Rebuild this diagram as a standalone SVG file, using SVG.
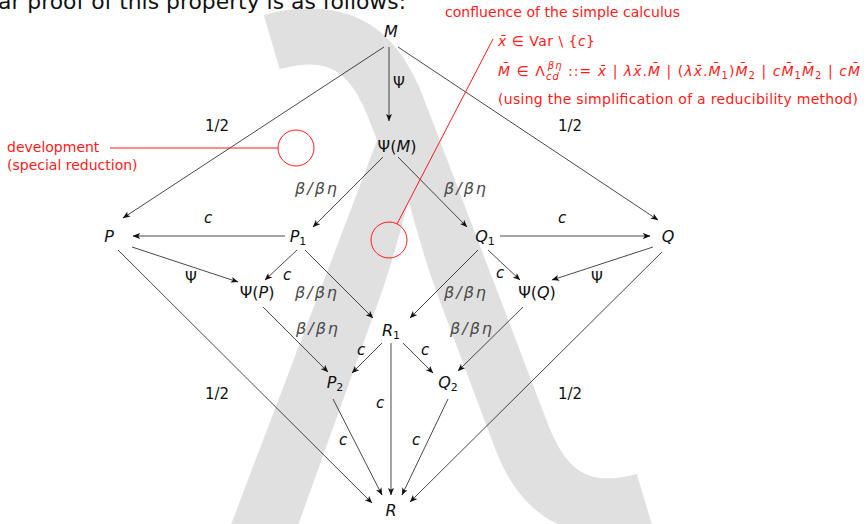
<svg xmlns="http://www.w3.org/2000/svg" width="867" height="524" viewBox="0 0 867 524">
<defs>
<marker id="ah" viewBox="0 0 10 8" refX="9.5" refY="4" markerWidth="7.5" markerHeight="6" markerUnits="userSpaceOnUse" orient="auto">
<path d="M0,0 L10,4 L0,8 L2.5,4 z" fill="#111"/>
</marker>
<style>
.e{stroke:#1a1a1a;stroke-width:0.8;fill:none;marker-end:url(#ah)}
.n{font-family:"DejaVu Sans",sans-serif;font-size:16px;fill:#111;text-anchor:middle}
.l{font-family:"DejaVu Sans",sans-serif;font-size:15px;fill:#111;text-anchor:middle}
.i{font-style:italic}
.g{fill:#4a4a4a;font-size:16px}
.s{font-size:11px}
.r{font-family:"DejaVu Sans",sans-serif;font-size:14px;fill:#ff1a1a}
.rl{stroke:#ff1a1a;stroke-width:1;fill:none}
</style>
</defs>
<rect width="867" height="524" fill="#ffffff"/>
<text x="212" y="526" font-family="Inter, sans-serif" font-size="700" fill="#e0e0e0">λ</text>
<text x="-2" y="9" font-family="DejaVu Sans, sans-serif" font-size="21" fill="#111" textLength="408" lengthAdjust="spacingAndGlyphs">ar proof of this property is as follows:</text>

<g id="connectors">
<line class="e" x1="389" y1="47" x2="389" y2="121"/>
<line class="e" x1="384" y1="47" x2="123" y2="218"/>
<line class="e" x1="398" y1="47" x2="658" y2="220"/>
<line class="e" x1="383" y1="157" x2="313" y2="227"/>
<line class="e" x1="398" y1="157" x2="467" y2="227"/>
<line class="e" x1="285" y1="236" x2="133" y2="236"/>
<line class="e" x1="500" y1="236" x2="650" y2="236"/>
<line class="e" x1="132" y1="247" x2="238" y2="282"/>
<line class="e" x1="653" y1="247" x2="552" y2="280"/>
<line class="e" x1="297" y1="250" x2="265" y2="280"/>
<line class="e" x1="488" y1="250" x2="520" y2="280"/>
<line class="e" x1="305" y1="250" x2="373" y2="318"/>
<line class="e" x1="478" y1="250" x2="410" y2="318"/>
<line class="e" x1="263" y1="307" x2="328" y2="372"/>
<line class="e" x1="523" y1="307" x2="458" y2="371"/>
<line class="e" x1="382" y1="343" x2="352" y2="373"/>
<line class="e" x1="403" y1="343" x2="433" y2="373"/>
<line class="e" x1="391" y1="343" x2="391" y2="495"/>
<line class="e" x1="333" y1="399" x2="382" y2="495"/>
<line class="e" x1="448" y1="399" x2="402" y2="495"/>
<line class="e" x1="118" y1="250" x2="372" y2="503"/>
<line class="e" x1="662" y1="252" x2="410" y2="502"/>
</g>

<g id="edge-labels">
<text class="l" x="399" y="88">Ψ</text>
<text class="l" x="217" y="131">1/2</text>
<text class="l" x="570" y="131">1/2</text>
<text class="l" x="217" y="399">1/2</text>
<text class="l" x="570" y="399">1/2</text>
<text class="l g i" x="316" y="194" textLength="42">β/βη</text>
<text class="l g i" x="465" y="194" textLength="42">β/βη</text>
<text class="l g i" x="316" y="298" textLength="42">β/βη</text>
<text class="l g i" x="465" y="298" textLength="42">β/βη</text>
<text class="l g i" x="317" y="334" textLength="42">β/βη</text>
<text class="l g i" x="471" y="334" textLength="42">β/βη</text>
<text class="l i" x="208" y="223">c</text>
<text class="l i" x="562" y="223">c</text>
<text class="l i" x="287" y="280">c</text>
<text class="l i" x="500" y="278">c</text>
<text class="l" x="191" y="283">Ψ</text>
<text class="l" x="597" y="283">Ψ</text>
<text class="l i" x="361" y="355">c</text>
<text class="l i" x="425" y="355">c</text>
<text class="l i" x="380" y="408">c</text>
<text class="l i" x="343" y="445">c</text>
<text class="l i" x="416" y="445">c</text>
</g>

<g id="node-M"><text class="n i" x="391" y="37">M</text></g>
<g id="node-PsiM"><text class="n" x="397" y="152">Ψ(<tspan class="i">M</tspan>)</text></g>
<g id="node-P"><text class="n i" x="109" y="242">P</text></g>
<g id="node-P1"><text class="n" x="298" y="242"><tspan class="i">P</tspan><tspan class="s" dy="3">1</tspan></text></g>
<g id="node-Q1"><text class="n" x="485" y="242"><tspan class="i">Q</tspan><tspan class="s" dy="3">1</tspan></text></g>
<g id="node-Q"><text class="n i" x="668" y="242">Q</text></g>
<g id="node-PsiP"><text class="n" x="257" y="298">Ψ(<tspan class="i">P</tspan>)</text></g>
<g id="node-PsiQ"><text class="n" x="537" y="298">Ψ(<tspan class="i">Q</tspan>)</text></g>
<g id="node-R1"><text class="n" x="391" y="336"><tspan class="i">R</tspan><tspan class="s" dy="3">1</tspan></text></g>
<g id="node-P2"><text class="n" x="335" y="388"><tspan class="i">P</tspan><tspan class="s" dy="3">2</tspan></text></g>
<g id="node-Q2"><text class="n" x="448" y="388"><tspan class="i">Q</tspan><tspan class="s" dy="3">2</tspan></text></g>
<g id="node-R"><text class="n i" x="391" y="516">R</text></g>

<g id="annotation-development">
<circle class="rl" cx="296" cy="148" r="18"/>
<line class="rl" x1="110" y1="148" x2="278" y2="148"/>
<text class="r" x="7" y="152">development</text>
<text class="r" x="7" y="170">(special reduction)</text>
</g>

<g id="annotation-confluence">
<circle class="rl" cx="389" cy="240" r="18"/>
<line class="rl" x1="397" y1="224" x2="493" y2="39"/>
<text class="r" x="445" y="17" textLength="235">confluence of the simple calculus</text>
<text class="r" x="498" y="46" textLength="97"><tspan class="i">x̄</tspan> ∈ Var \ {<tspan class="i">c</tspan>}</text>
<text class="r" x="498" y="76" textLength="362" lengthAdjust="spacing"><tspan class="i">M̄</tspan> ∈ Λ<tspan class="i" font-size="10" dy="4">cd</tspan><tspan class="i" font-size="10" dx="-12" dy="-11">βη</tspan><tspan dy="7"> ::= </tspan><tspan class="i">x̄</tspan> | <tspan class="i">λx̄</tspan>.<tspan class="i">M̄</tspan> | (<tspan class="i">λx̄</tspan>.<tspan class="i">M̄</tspan><tspan font-size="10" dy="3">1</tspan><tspan dy="-3">)</tspan><tspan class="i">M̄</tspan><tspan font-size="10" dy="3">2</tspan><tspan dy="-3"> | </tspan><tspan class="i">cM̄</tspan><tspan font-size="10" dy="3">1</tspan><tspan class="i" dy="-3">M̄</tspan><tspan font-size="10" dy="3">2</tspan><tspan dy="-3"> | </tspan><tspan class="i">cM̄</tspan></text>
<text class="r" x="498" y="104" textLength="360">(using the simplification of a reducibility method)</text>
</g>
</svg>
